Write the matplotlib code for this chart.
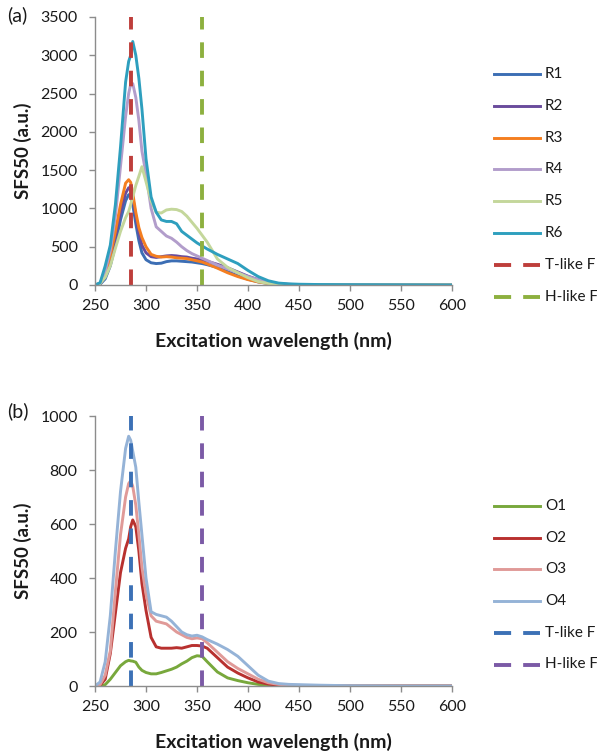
import matplotlib
matplotlib.use("Agg")
import matplotlib.pyplot as plt
from matplotlib.lines import Line2D


# =====================================================
# DATA
# =====================================================

wavelength = [250, 255, 260, 265, 270, 275, 280, 283, 285, 287, 290, 293, 296,
              300, 305, 310, 315, 320, 325, 330, 335, 340, 345, 350, 355, 360,
              370, 380, 390, 400, 410, 420, 430, 440, 450, 470, 500, 550, 600]

r1 = [0, 10, 80, 250, 520, 850, 1100, 1180, 1170, 1050, 800, 580, 420,
      330, 290, 280, 285, 305, 315, 315, 310, 305, 300, 290, 280, 265,
      230, 175, 120, 75, 40, 20, 10, 5, 3, 2, 0, 0, 0]
r2 = [0, 15, 110, 320, 620, 950, 1200, 1270, 1250, 1150, 900, 680, 520,
      420, 370, 360, 370, 380, 385, 380, 370, 365, 350, 340, 325, 310,
      270, 225, 170, 115, 70, 35, 15, 8, 5, 3, 2, 0, 0]
r3 = [0, 20, 150, 380, 700, 1050, 1330, 1375, 1340, 1200, 950, 750, 620,
      500, 400, 375, 365, 370, 365, 355, 350, 345, 330, 315, 300, 275,
      220, 160, 110, 70, 40, 20, 8, 4, 2, 1, 0, 0, 0]
r4 = [0, 20, 180, 450, 900, 1550, 2200, 2500, 2620, 2630, 2450, 2150, 1750,
      1450, 1000, 760, 700, 640, 610, 560, 500, 450, 410, 380, 350, 320,
      260, 210, 160, 110, 70, 35, 15, 8, 5, 3, 2, 1, 0]
r5 = [0, 20, 100, 250, 480, 700, 880, 960, 1050, 1150, 1300, 1420, 1545,
      1350, 1100, 950, 940, 980, 990, 985, 960, 900, 820, 740, 650, 560,
      340, 230, 160, 95, 45, 20, 8, 4, 2, 1, 0, 0, 0]
r6 = [0, 30, 250, 520, 1050, 1800, 2650, 2920, 3000, 3180, 3000, 2700, 2300,
      1650, 1150, 950, 850, 830, 830, 800, 700, 650, 600, 550, 510, 470,
      400, 340, 280, 190, 110, 55, 25, 15, 10, 6, 4, 2, 0]

o1 = [0, 0, 5, 25, 50, 75, 90, 95, 93, 92, 88, 70, 58,
      50, 45, 45, 50, 56, 62, 70, 82, 92, 105, 112, 110, 90,
      52, 30, 20, 12, 6, 3, 1, 0, 0, 0, 0, 0, 0]
o2 = [0, 3, 25, 120, 270, 420, 510, 545, 590, 615, 590, 500, 380,
      280, 180, 145, 140, 140, 140, 142, 140, 145, 150, 150, 148, 140,
      105, 70, 48, 30, 15, 7, 3, 2, 1, 0, 0, 0, 0]
o3 = [0, 5, 40, 130, 350, 560, 700, 750, 760, 740, 670, 560, 440,
      340, 260, 240, 235, 230, 215, 200, 190, 180, 175, 178, 175, 160,
      125, 90, 65, 45, 25, 12, 6, 3, 2, 1, 0, 0, 0]
o4 = [0, 15, 90, 260, 500, 720, 880, 925, 910, 870, 810, 680, 560,
      400, 275, 265, 260, 255, 240, 220, 200, 190, 185, 188, 182, 172,
      155, 135, 110, 75, 40, 18, 9, 6, 5, 3, 1, 0, 0]

t_like = 285
h_like = 355

series_a = ["R1", "R2", "R3", "R4", "R5", "R6"]
series_b = ["O1", "O2", "O3", "O4"]
marker_names = ["T-like F", "H-like F"]


# =====================================================
# STYLE
# =====================================================

plt.rcParams["font.family"] = ["Lato", "DejaVu Sans"]
TEXT = "#1a1a1a"
AXIS = "#8c8c8c"
W, H = 597, 752

colors_a = ["#3C6EB4", "#6A4C9C", "#F47E20", "#B29DCB", "#C4D79B", "#2E9FBE"]
marks_a = ["#BE3E3B", "#8DB03F"]
colors_b = ["#78A83C", "#B8312F", "#E09A98", "#95B3D7"]
marks_b = ["#3C71B6", "#7B5AA6"]

CURVE_LW = 2.1
DASH_LW = 2.8

fig = plt.figure(figsize=(W / 100, H / 100), dpi=100)

ax_a = fig.add_axes([95 / W, 1 - 285 / H, 357 / W, 268 / H])
ax_b = fig.add_axes([95 / W, 1 - 686 / H, 357 / W, 270 / H])


def style_axes(ax, ymax, ystep, height_px):
    ax.set_xlim(250, 600)
    ax.set_ylim(0, ymax)
    ax.set_xticks(range(250, 601, 50))
    ax.set_yticks(range(0, ymax + 1, ystep))
    for side in ["top", "right"]:
        ax.spines[side].set_visible(False)
    for side in ["left", "bottom"]:
        ax.spines[side].set_color(AXIS)
        ax.spines[side].set_linewidth(1.0)
    ax.tick_params(axis="both", direction="out", length=4.5, width=1,
                   color=AXIS, labelsize=11.5, labelcolor=TEXT)
    ax.tick_params(axis="x", pad=5.5)
    ax.tick_params(axis="y", pad=8)
    ax.set_xlabel("Excitation wavelength (nm)", fontsize=14,
                  fontweight="bold", color=TEXT)
    ax.set_ylabel("SFS50 (a.u.)", fontsize=13.5, fontweight="bold",
                  color=TEXT)
    ax.xaxis.set_label_coords(0.5, -56 / height_px)
    ax.xaxis.label.set_verticalalignment("center")
    ax.yaxis.set_label_coords(-72 / 357, 0.5)
    ax.yaxis.label.set_verticalalignment("center")


def marker_line(ax, x, ymax, color):
    ax.plot([x, x], [0, ymax], color=color, linewidth=DASH_LW,
            dashes=(4.0, 3.3), dash_capstyle="butt")


def legend_rows(names, colors, styles, y0, step):
    for i, (name, color, dashed) in enumerate(zip(names, colors, styles)):
        y = 1 - (y0 + i * step) / H
        if dashed:
            line = Line2D([494 / W, 540 / W], [y, y], transform=fig.transFigure,
                          color=color, linewidth=DASH_LW, dashes=(4.4, 3.1),
                          dash_capstyle="butt")
        else:
            line = Line2D([494 / W, 540 / W], [y, y], transform=fig.transFigure,
                          color=color, linewidth=CURVE_LW)
        fig.add_artist(line)
        fig.text(545 / W, y, name, fontsize=11, color=TEXT,
                 ha="left", va="center")


# =====================================================
# PANEL (a)
# =====================================================

for values, color in zip([r1, r2, r3, r4, r5, r6], colors_a):
    ax_a.plot(wavelength, values, color=color, linewidth=CURVE_LW)

marker_line(ax_a, t_like, 3500, marks_a[0])
marker_line(ax_a, h_like, 3500, marks_a[1])

style_axes(ax_a, 3500, 500, 268)

legend_rows(series_a + marker_names, colors_a + marks_a,
            [False] * 6 + [True] * 2, 74, 31.8)

fig.text(7 / W, 1 - 15 / H, "(a)", fontsize=14, color=TEXT,
         ha="left", va="center")


# =====================================================
# PANEL (b)
# =====================================================

for values, color in zip([o1, o2, o3, o4], colors_b):
    ax_b.plot(wavelength, values, color=color, linewidth=CURVE_LW)

marker_line(ax_b, t_like, 1000, marks_b[0])
marker_line(ax_b, h_like, 1000, marks_b[1])

style_axes(ax_b, 1000, 200, 270)

legend_rows(series_b + marker_names, colors_b + marks_b,
            [False] * 4 + [True] * 2, 506, 31.7)

fig.text(7 / W, 1 - 411 / H, "(b)", fontsize=14, color=TEXT,
         ha="left", va="center")

fig.savefig("out.png", dpi=100)
